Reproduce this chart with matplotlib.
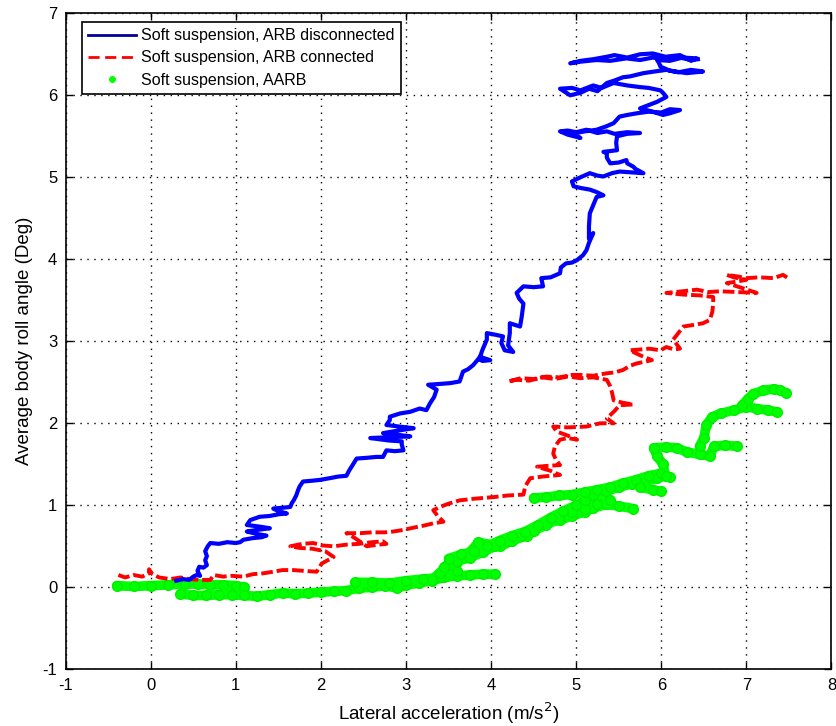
import matplotlib
matplotlib.use("Agg")
import matplotlib.pyplot as plt
from matplotlib.lines import Line2D

plt.rcParams['font.family'] = ['Liberation Sans', 'DejaVu Sans']
plt.rcParams['axes.unicode_minus'] = False

# ---- data ----
blue_pts = [
    (0.30, 0.08), (0.38, 0.10), (0.45, 0.09), (0.50, 0.13), (0.54, 0.15), (0.58, 0.14), (0.55, 0.20),
    (0.57, 0.25), (0.62, 0.24), (0.66, 0.27), (0.64, 0.33), (0.66, 0.38), (0.64, 0.44), (0.67, 0.50),
    (0.70, 0.54), (0.80, 0.53), (0.90, 0.55), (1.00, 0.54), (1.05, 0.55), (1.09, 0.58), (1.20, 0.60),
    (1.30, 0.61), (1.36, 0.63), (1.25, 0.65), (1.13, 0.68), (1.25, 0.70), (1.40, 0.72), (1.28, 0.74),
    (1.13, 0.76), (1.17, 0.82), (1.28, 0.86), (1.40, 0.87), (1.50, 0.89), (1.60, 0.90), (1.50, 0.93),
    (1.44, 0.96), (1.55, 0.97), (1.64, 0.98), (1.66, 1.03), (1.68, 1.06), (1.71, 1.12), (1.73, 1.18),
    (1.75, 1.23), (1.79, 1.29), (1.90, 1.30), (1.99, 1.31), (2.10, 1.33), (2.20, 1.35), (2.30, 1.36),
    (2.33, 1.42), (2.36, 1.47), (2.42, 1.57), (2.55, 1.58), (2.65, 1.59), (2.73, 1.59), (2.77, 1.67),
    (2.87, 1.66), (2.97, 1.67), (2.95, 1.74), (2.95, 1.78), (2.80, 1.79), (2.58, 1.82), (2.80, 1.83),
    (3.05, 1.84), (2.90, 1.86), (2.73, 1.88), (2.90, 1.91), (3.09, 1.94), (2.92, 1.96), (2.77, 1.98),
    (2.81, 2.04), (2.81, 2.08), (2.93, 2.12), (3.05, 2.14), (3.16, 2.18), (3.24, 2.16), (3.28, 2.24),
    (3.33, 2.32), (3.36, 2.41), (3.26, 2.47), (3.40, 2.48), (3.52, 2.49), (3.63, 2.51), (3.65, 2.57),
    (3.67, 2.63), (3.73, 2.66), (3.79, 2.71), (3.83, 2.76), (3.87, 2.81), (3.93, 2.79), (3.99, 2.77),
    (3.90, 2.76), (3.86, 2.78), (3.90, 2.90), (3.95, 3.02), (3.95, 3.10), (4.05, 3.08), (4.14, 3.06),
    (4.12, 2.98), (4.16, 2.89), (4.26, 2.87), (4.20, 2.95), (4.22, 3.10), (4.22, 3.22), (4.28, 3.20),
    (4.34, 3.18), (4.36, 3.30), (4.38, 3.46), (4.33, 3.52), (4.30, 3.59), (4.38, 3.67), (4.50, 3.66),
    (4.61, 3.67), (4.59, 3.77), (4.70, 3.78), (4.81, 3.83), (4.82, 3.90), (4.88, 3.95), (4.95, 3.96),
    (5.01, 3.99), (5.08, 4.05), (5.12, 4.11), (5.15, 4.20), (5.20, 4.32), (5.15, 4.25), (5.15, 4.40),
    (5.16, 4.56), (5.20, 4.66), (5.24, 4.76), (5.32, 4.78), (5.24, 4.82), (5.16, 4.85), (5.05, 4.87),
    (4.97, 4.89), (4.95, 4.95), (5.05, 5.00), (5.16, 5.05), (5.25, 5.02), (5.32, 5.01), (5.42, 5.05),
    (5.51, 5.07), (5.65, 5.06), (5.79, 5.05), (5.70, 5.10), (5.67, 5.13), (5.60, 5.17), (5.59, 5.21),
    (5.50, 5.18), (5.40, 5.17), (5.36, 5.24), (5.36, 5.29), (5.32, 5.31), (5.40, 5.32), (5.48, 5.33),
    (5.47, 5.42), (5.48, 5.50), (5.60, 5.53), (5.75, 5.54), (5.60, 5.55), (5.45, 5.53), (5.36, 5.56),
    (5.25, 5.54), (5.12, 5.58), (5.00, 5.55), (4.90, 5.57), (4.81, 5.56), (4.90, 5.52), (5.05, 5.48),
    (4.95, 5.53), (5.10, 5.56), (5.24, 5.58), (5.35, 5.62), (5.44, 5.66), (5.51, 5.74), (5.60, 5.76),
    (5.71, 5.78), (5.85, 5.80), (6.00, 5.79), (6.10, 5.83), (6.22, 5.82), (6.10, 5.78), (6.02, 5.76),
    (5.90, 5.80), (5.75, 5.84), (5.85, 5.88), (5.95, 5.92), (6.06, 5.98), (6.02, 6.03), (5.99, 6.06),
    (5.85, 6.09), (5.75, 6.10), (5.60, 6.12), (5.44, 6.15), (5.30, 6.09), (5.20, 6.12), (5.05, 6.06),
    (4.95, 6.09), (4.81, 6.08), (4.93, 6.00), (5.05, 6.03), (5.15, 6.08), (5.25, 6.05), (5.36, 6.15),
    (5.45, 6.18), (5.55, 6.22), (5.63, 6.23), (5.79, 6.27), (5.92, 6.29), (6.06, 6.31), (6.20, 6.28),
    (6.35, 6.31), (6.49, 6.29), (6.30, 6.27), (6.10, 6.30), (5.99, 6.35), (5.97, 6.40), (5.95, 6.43),
    (6.10, 6.42), (6.25, 6.46), (6.42, 6.45), (6.35, 6.42), (6.22, 6.49), (6.05, 6.47), (5.90, 6.51),
    (5.75, 6.50), (5.60, 6.46), (5.45, 6.49), (5.36, 6.47), (5.20, 6.44), (5.05, 6.42), (4.93, 6.39),
    (5.05, 6.41), (5.24, 6.43), (5.40, 6.42), (5.59, 6.45), (5.75, 6.43), (5.90, 6.46), (6.05, 6.44),
    (6.22, 6.46), (6.35, 6.43), (6.43, 6.44),
]
blue_x = [p[0] for p in blue_pts]
blue_y = [p[1] for p in blue_pts]

red_pts = [
    (-0.38, 0.15), (-0.30, 0.12), (-0.20, 0.15), (-0.10, 0.13), (-0.02, 0.17), (-0.02, 0.22), (0.02, 0.16),
    (0.10, 0.12), (0.23, 0.10), (0.35, 0.12), (0.45, 0.10), (0.58, 0.09), (0.70, 0.09), (0.74, 0.15),
    (0.85, 0.13), (0.95, 0.14), (1.09, 0.13), (1.20, 0.16), (1.32, 0.17), (1.44, 0.19), (1.55, 0.21),
    (1.68, 0.21), (1.80, 0.20), (1.95, 0.19), (2.01, 0.29), (2.08, 0.33), (2.15, 0.37), (2.05, 0.44),
    (1.90, 0.47), (1.75, 0.48), (1.64, 0.50), (1.78, 0.53), (1.91, 0.54), (2.02, 0.51), (2.15, 0.50),
    (2.30, 0.52), (2.45, 0.53), (2.60, 0.55), (2.73, 0.56), (2.77, 0.53), (2.60, 0.51), (2.54, 0.50),
    (2.40, 0.60), (2.30, 0.66), (2.46, 0.66), (2.60, 0.67), (2.75, 0.67), (2.85, 0.68), (2.97, 0.70),
    (3.10, 0.73), (3.20, 0.75), (3.32, 0.78), (3.44, 0.80), (3.38, 0.86), (3.32, 0.94), (3.40, 0.98),
    (3.50, 1.02), (3.63, 1.06), (3.80, 1.08), (4.03, 1.10), (4.20, 1.12), (4.38, 1.13), (4.40, 1.23),
    (4.46, 1.33), (4.60, 1.35), (4.81, 1.37), (4.70, 1.42), (4.54, 1.47), (4.65, 1.48), (4.81, 1.49),
    (4.76, 1.56), (4.73, 1.63), (4.75, 1.72), (4.81, 1.80), (4.90, 1.82), (5.01, 1.80), (4.90, 1.85),
    (4.77, 1.90), (4.73, 1.96), (4.90, 1.95), (5.12, 1.96), (5.28, 2.00), (5.44, 2.00), (5.36, 2.06),
    (5.45, 2.15), (5.51, 2.22), (5.67, 2.23), (5.55, 2.25), (5.44, 2.28), (5.42, 2.38), (5.40, 2.45),
    (5.36, 2.53), (5.20, 2.56), (5.05, 2.55), (4.90, 2.57), (4.75, 2.54), (4.60, 2.56), (4.45, 2.52),
    (4.30, 2.53), (4.20, 2.51), (4.35, 2.55), (4.50, 2.54), (4.65, 2.57), (4.80, 2.56), (4.95, 2.59),
    (5.05, 2.59), (5.20, 2.58), (5.36, 2.61), (5.45, 2.62), (5.55, 2.65), (5.63, 2.70), (5.71, 2.73),
    (5.80, 2.75), (5.89, 2.77), (5.75, 2.83), (5.63, 2.89), (5.75, 2.90), (5.86, 2.91), (5.99, 2.89),
    (6.06, 2.93), (6.15, 2.90), (6.22, 2.91), (6.14, 3.02), (6.20, 3.10), (6.26, 3.18), (6.38, 3.20),
    (6.49, 3.22), (6.57, 3.26), (6.60, 3.36), (6.61, 3.46), (6.61, 3.54), (6.45, 3.56), (6.25, 3.57),
    (6.06, 3.59), (6.25, 3.61), (6.42, 3.63), (6.55, 3.60), (6.69, 3.61), (6.90, 3.60), (7.12, 3.59),
    (6.95, 3.65), (6.77, 3.71), (6.90, 3.73), (7.00, 3.75), (6.85, 3.78), (6.77, 3.81), (6.90, 3.79),
    (7.00, 3.77), (7.15, 3.78), (7.32, 3.77), (7.43, 3.81), (7.49, 3.77),
]
red_x = [p[0] for p in red_pts]
red_y = [p[1] for p in red_pts]

# green (AARB) trajectory, as separate strands of the dotted band
green_x = [
    [-0.40, -0.20, 0.00, 0.20, 0.40, 0.55, 0.70, 0.85, 1.00, 1.10],
    [0.35, 0.50, 0.65, 0.80, 0.95, 1.10, 1.25, 1.40, 1.55, 1.70, 1.85, 2.00, 2.15, 2.30, 2.45, 2.60,
     2.75, 2.90, 3.00, 3.15, 3.30, 3.45, 3.60, 3.75, 3.90, 4.05],
    [2.40, 2.60, 2.80, 3.00, 3.20, 3.40, 3.60],
    [3.30, 3.40, 3.48, 3.60, 3.70, 3.78, 3.85, 4.00, 4.11, 4.25, 4.42, 4.50, 4.65, 4.81, 4.95, 5.10,
     5.20, 5.36, 5.50, 5.67],
    [3.45, 3.60, 3.75, 3.90, 4.05, 4.20, 4.35, 4.50, 4.65, 4.80, 4.95, 5.10, 5.25, 5.40],
    [3.50, 3.65, 3.80, 3.95, 4.10, 4.25, 4.40, 4.55, 4.70, 4.85, 5.00, 5.10, 5.20, 5.35, 5.50, 5.65,
     5.80, 5.95, 6.05],
    [4.50, 4.65, 4.80, 4.95, 5.10, 5.25, 5.40, 5.55, 5.70, 5.85, 6.00, 6.10],
    [5.75, 5.90, 6.00],
    [6.05, 6.02, 5.95, 5.91, 6.05, 6.18, 6.30, 6.45, 6.57, 6.62, 6.75, 6.89],
    [6.45, 6.50, 6.53, 6.60, 6.70, 6.85, 7.00, 7.12, 7.25, 7.36],
    [6.95, 7.02, 7.08, 7.20, 7.32, 7.40, 7.47],
]
green_y = [
    [0.02, 0.01, 0.02, 0.03, 0.04, 0.04, 0.03, 0.03, 0.02, 0.00],
    [-0.08, -0.10, -0.10, -0.09, -0.09, -0.10, -0.11, -0.09, -0.07, -0.08, -0.07, -0.06, -0.05, -0.04,
     -0.01, 0.00, 0.02, -0.01, 0.03, 0.05, 0.08, 0.12, 0.14, 0.15, 0.16, 0.16],
    [0.06, 0.06, 0.05, 0.08, 0.10, 0.12, 0.20],
    [0.09, 0.18, 0.27, 0.31, 0.38, 0.46, 0.55, 0.52, 0.50, 0.57, 0.63, 0.72, 0.78, 0.82, 0.87, 0.92,
     0.97, 1.01, 0.99, 0.96],
    [0.25, 0.32, 0.36, 0.43, 0.50, 0.56, 0.63, 0.69, 0.76, 0.85, 0.92, 0.96, 1.02, 1.06],
    [0.35, 0.40, 0.44, 0.50, 0.57, 0.63, 0.68, 0.76, 0.85, 0.93, 1.00, 1.06, 1.12, 1.17, 1.22, 1.26,
     1.28, 1.33, 1.36],
    [1.09, 1.10, 1.12, 1.13, 1.16, 1.19, 1.22, 1.27, 1.31, 1.36, 1.39, 1.34],
    [1.22, 1.19, 1.17],
    [1.36, 1.50, 1.60, 1.70, 1.71, 1.70, 1.65, 1.62, 1.60, 1.72, 1.73, 1.72],
    [1.72, 1.82, 1.98, 2.08, 2.12, 2.16, 2.20, 2.18, 2.16, 2.14],
    [2.22, 2.30, 2.36, 2.40, 2.42, 2.40, 2.37],
]

labels = ['Soft suspension, ARB disconnected', 'Soft suspension, ARB connected', 'Soft suspension, AARB']
x_ticks = list(range(-1, 9))
y_ticks = list(range(-1, 8))

# ---- figure ----
fig = plt.figure(figsize=(8.37, 7.26), dpi=100)
ax = fig.add_axes([0.0784, 0.0781, 0.9150, 0.9036])

for gx, gy in zip(green_x, green_y):
    ax.plot(gx, gy, color='#00ff00', lw=7, solid_capstyle='round', solid_joinstyle='round', zorder=2)
    ax.plot(gx, gy, ls='none', marker='o', ms=7, color='#00ff00', mec='#00ee00', zorder=2)

ax.plot(red_x, red_y, color='#ff0000', lw=2.8, dashes=(3.0, 1.0), zorder=3)
ax.plot(blue_x, blue_y, color='#0000ff', lw=3.0, solid_joinstyle='round', zorder=4)

ax.set_xlim(-1, 8)
ax.set_ylim(-1, 7)
ax.set_xticks(x_ticks)
ax.set_yticks(y_ticks)
ax.tick_params(direction='in', top=True, right=True, length=5, width=1, labelsize=12, pad=6)
ax.grid(True, color='black', linestyle=(0, (1, 4)), linewidth=1)
for s in ax.spines.values():
    s.set_linewidth(1.2)
    s.set_color('black')

ax.set_xlabel('Lateral acceleration (m/s$^2$)', fontsize=13.5, labelpad=6)
ax.set_ylabel('Average body roll angle (Deg)', fontsize=13.5, labelpad=7)

handles = [Line2D([], [], color='#000099', lw=2),
           Line2D([], [], color='#ff0000', lw=2, dashes=(4, 2)),
           Line2D([], [], color='#00ff00', ls='none', marker='.', ms=8)]
leg = ax.legend(handles, labels, loc='upper left', bbox_to_anchor=(0.021, 0.987), borderaxespad=0,
                fancybox=False, edgecolor='black', framealpha=1, fontsize=11.5,
                handlelength=3.0, handletextpad=0.3, labelspacing=0.45, borderpad=0.4)
leg.get_frame().set_linewidth(1.2)

fig.savefig('out.png', dpi=100)
